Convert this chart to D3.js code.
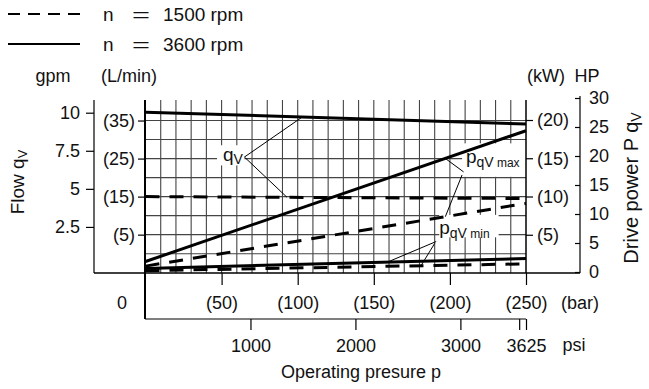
<!DOCTYPE html>
<html>
<head>
<meta charset="utf-8">
<script src="https://cdn.jsdelivr.net/npm/d3@7"></script>
<style>
    body { margin: 0; background: #fff; }
    svg text { font-family: "Liberation Sans", Arial, Helvetica, sans-serif; fill: #111; }
</style>
</head>
<body>
<svg id="chart" width="649" height="389"></svg>
<script>
// operating pressure (bar), both ends of each straight curve
let pressure = [0, 250];
// flow qV in L/min
let flow3600 = [37.2, 34.1];
let flow1500 = [15.0, 14.5];
// drive power in kW
let pMax3600 = [1.5, 18.6];
let pMax1500 = [0.9, 9.1];
let pMin3600 = [0.6, 1.9];
let pMin1500 = [0.3, 1.2];

// tick labels
let barTicks = [50, 100, 150, 200, 250];
let psiTicks = [1000, 2000, 3000, 3625];
let gpmTicks = [2.5, 5, 7.5, 10];
let lminTicks = [5, 15, 25, 35];
let kwTicks = [5, 10, 15, 20];
let hpTicks = [0, 5, 10, 15, 20, 25, 30];

let svg = d3.select('#chart');

let x = d3.scaleLinear().domain([0, 250]).range([145.5, 526]),
    psi = d3.scaleLinear().domain([0, 3625]).range([145.5, 526]),
    yFlow = d3.scaleLinear().domain([-5, 40.4]).range([272.7, 100]),
    yKw = d3.scaleLinear().domain([0, 20]).range([273, 120]),
    yGpm = d3.scaleLinear().domain([0, 10]).range([265, 112.7]),
    yHp = d3.scaleLinear().domain([0, 30]).range([272, 98]);

let plot = { left: 145, right: 526, top: 100, bottom: 273 };

// grid
let grid = svg.append('g').attr('stroke', '#444').attr('stroke-width', 1.1);
grid.selectAll('.vx').data(d3.range(10, 250, 10)).enter().append('line')
    .attr('x1', d => x(d)).attr('x2', d => x(d))
    .attr('y1', plot.top).attr('y2', plot.bottom);
grid.selectAll('.hy').data(d3.range(0, 40, 5)).enter().append('line')
    .attr('x1', plot.left).attr('x2', plot.right)
    .attr('y1', d => yFlow(d)).attr('y2', d => yFlow(d));

// white boxes behind the curve labels
let boxes = [
    { b: [47, 65], v: [28.5, 23.2] },   // qV (bar, L/min)
    { b: [208, 250], v: [29.0, 20.2] }, // pqV max
    { b: [193, 232], v: [10.2, 4.3] }   // pqV min
];
svg.append('g').selectAll('rect').data(boxes).enter().append('rect')
    .attr('x', d => x(d.b[0])).attr('width', d => x(d.b[1]) - x(d.b[0]))
    .attr('y', d => yFlow(d.v[0])).attr('height', d => yFlow(d.v[1]) - yFlow(d.v[0]))
    .attr('fill', '#fff');

// frame lines
let frame = svg.append('g').attr('stroke', '#000');
frame.append('line').attr('x1', plot.left).attr('x2', plot.left).attr('y1', plot.top).attr('y2', 319).attr('stroke-width', 2);
frame.append('line').attr('x1', plot.right).attr('x2', plot.right).attr('y1', plot.top).attr('y2', plot.bottom).attr('stroke-width', 1.5);
frame.append('line').attr('x1', 94).attr('x2', 580).attr('y1', plot.bottom).attr('y2', plot.bottom).attr('stroke-width', 1.5);
frame.append('line').attr('x1', 94).attr('x2', 94).attr('y1', plot.top).attr('y2', plot.bottom).attr('stroke-width', 1.2);
frame.append('line').attr('x1', 580).attr('x2', 580).attr('y1', 96).attr('y2', plot.bottom).attr('stroke-width', 1.2);
frame.append('line').attr('x1', plot.left).attr('x2', plot.right).attr('y1', 319).attr('y2', 319).attr('stroke-width', 1.2);

// curves
let curves = [
    { v: flow3600, y: yFlow, dash: null },
    { v: flow1500, y: yFlow, dash: '14,10' },
    { v: pMax3600, y: yKw, dash: null },
    { v: pMax1500, y: yKw, dash: '14,10' },
    { v: pMin3600, y: yKw, dash: null },
    { v: pMin1500, y: yKw, dash: '14,10' }
];
svg.append('g').selectAll('path').data(curves).enter().append('path')
    .attr('d', c => d3.line().x((d, i) => x(pressure[i])).y(d => c.y(d))(c.v))
    .attr('fill', 'none').attr('stroke', '#000').attr('stroke-width', 3)
    .attr('stroke-dasharray', c => c.dash);

// value of a straight curve at pressure p
function at(c, p) { return c.y(c.v[0] + (c.v[1] - c.v[0]) * p / 250); }

// leader lines: from label point (bar, L/min) to a point on a curve
let leaders = [
    { from: [65, 25.4], c: 0, p: 103 },
    { from: [65, 25.4], c: 1, p: 93 },
    { from: [209, 21.5], c: 2, p: 197 },
    { from: [208, 20.7], c: 3, p: 197 },
    { from: [191, 3.2], c: 4, p: 159 },
    { from: [190, 2.7], c: 5, p: 181 }
];
svg.append('g').selectAll('line').data(leaders).enter().append('line')
    .attr('x1', d => x(d.from[0])).attr('y1', d => yFlow(d.from[1]))
    .attr('x2', d => x(d.p)).attr('y2', d => at(curves[d.c], d.p))
    .attr('stroke', '#000').attr('stroke-width', 1);

// curve labels
let qv = svg.append('text').attr('x', x(64)).attr('y', yFlow(24.3)).attr('text-anchor', 'end').attr('font-size', 19);
qv.append('tspan').text('q');
qv.append('tspan').attr('font-size', 14).attr('dy', 3).text('V');

let pmax = svg.append('text').attr('x', x(210.5)).attr('y', yFlow(23.8)).attr('font-size', 19);
pmax.append('tspan').text('p');
pmax.append('tspan').attr('font-size', 14).attr('dy', 4).text('qV');
pmax.append('tspan').attr('font-size', 12).text(' max');

let pmin = svg.append('text').attr('x', x(193)).attr('y', yFlow(5.2)).attr('font-size', 19);
pmin.append('tspan').text('p');
pmin.append('tspan').attr('font-size', 14).attr('dy', 4).text('qV');
pmin.append('tspan').attr('font-size', 12).text(' min');

// axes
function clean(g) {
    g.select('.domain').remove();
    g.selectAll('.tick line').attr('stroke', '#000').attr('stroke-width', 1.2);
    g.selectAll('text').attr('font-size', 18).attr('font-family', null).attr('fill', '#111');
}
let paren = d => '(' + d + ')';

svg.append('g').attr('transform', 'translate(94,0)')
    .call(d3.axisLeft(yGpm).tickValues(gpmTicks).tickSize(8).tickPadding(6).tickFormat(d => d))
    .call(clean);
svg.append('g').attr('transform', 'translate(145,0)')
    .call(d3.axisLeft(yFlow).tickValues(lminTicks).tickSize(7).tickPadding(3).tickFormat(paren))
    .call(clean);
svg.append('g').attr('transform', 'translate(526,0)')
    .call(d3.axisRight(yKw).tickValues(kwTicks).tickSize(7).tickPadding(4).tickFormat(paren))
    .call(clean);
svg.append('g').attr('transform', 'translate(580,0)')
    .call(d3.axisRight(yHp).tickValues(hpTicks).tickSize(-5).tickPadding(9).tickFormat(d => d))
    .call(clean);

svg.append('g').attr('transform', 'translate(0,273)')
    .call(d3.axisBottom(x).tickValues(barTicks).tickSize(12).tickPadding(11).tickFormat(paren))
    .call(clean);
svg.append('g').attr('transform', 'translate(0,319)')
    .call(d3.axisBottom(psi).tickValues(psiTicks.concat([3560])).tickSize(11).tickPadding(9)
        .tickFormat(d => psiTicks.includes(d) ? d : ''))
    .call(clean);

// axis texts
function label(t, px, py, anchor, size) {
    return svg.append('text').attr('x', px).attr('y', py).attr('text-anchor', anchor || 'middle')
        .attr('font-size', size || 18).text(t);
}
label('0', 122, 309);
label('(bar)', 580, 309);
label('psi', 574, 351);
label('Operating presure p', 361, 378);
label('gpm', 53, 82);
label('(L/min)', 129, 82);
label('(kW)', 546, 82);
label('HP', 587, 82);

let flowTitle = svg.append('text').attr('transform', 'translate(24,182) rotate(-90)')
    .attr('text-anchor', 'middle').attr('font-size', 19);
flowTitle.append('tspan').text('Flow q');
flowTitle.append('tspan').attr('font-size', 13).attr('dy', 3).text('V');

let powerTitle = svg.append('text').attr('transform', 'translate(638,188) rotate(-90)')
    .attr('text-anchor', 'middle').attr('font-size', 20);
powerTitle.append('tspan').text('Drive power P q');
powerTitle.append('tspan').attr('font-size', 14).attr('dy', 3).text('V');

// legend
let legend = [
    { n: 'n', rpm: '1500 rpm', dash: '12,8', y: 14 },
    { n: 'n', rpm: '3600 rpm', dash: null, y: 44 }
];
let lg = svg.append('g').selectAll('g').data(legend).enter().append('g');
lg.append('line').attr('x1', 8).attr('x2', 80).attr('y1', d => d.y).attr('y2', d => d.y)
    .attr('stroke', '#000').attr('stroke-width', 2).attr('stroke-dasharray', d => d.dash);
let lt = lg.append('text').attr('y', d => d.y + 7).attr('font-size', 19);
lt.append('tspan').attr('x', 103).text(d => d.n);
lt.append('tspan').attr('x', 132).attr('textLength', 18).attr('lengthAdjust', 'spacingAndGlyphs').text('=');
lt.append('tspan').attr('x', 163).text(d => d.rpm);
</script>
</body>
</html>
